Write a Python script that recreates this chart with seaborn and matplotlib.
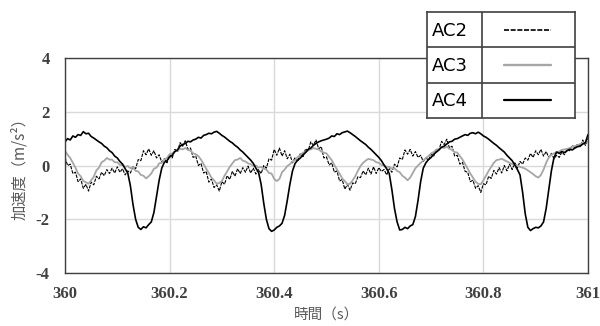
import numpy as np
import pandas as pd
import matplotlib
matplotlib.use("Agg")
import matplotlib.pyplot as plt
import seaborn as sns

# ---------------- data ----------------
t_start, t_end = 360.0, 361.0
n_samples = 201

ac2_c1 = [0.3,0.0,0.05,-0.3,-0.25,-0.6,-0.5,-0.85,-0.7,-0.95,-0.62,-0.72,-0.4,-0.5,-0.25,-0.38,-0.15,-0.3,-0.1,-0.28,-0.05,-0.25,-0.12,-0.35,-0.2,-0.28,-0.05,-0.12,0.22,0.18,0.55,0.4,0.62,0.38,0.55,0.28,0.4,0.12,0.25,0.1,0.4,0.28,0.6,0.5,0.85,0.72,0.92,0.6,0.65,0.3]
ac2_c2 = [0.35,0.0,0.08,-0.28,-0.22,-0.62,-0.5,-0.82,-0.72,-0.95,-0.6,-0.7,-0.38,-0.52,-0.22,-0.4,-0.12,-0.3,-0.08,-0.25,-0.02,-0.28,-0.1,-0.32,-0.15,-0.3,0.0,-0.1,0.25,0.2,0.6,0.38,0.65,0.35,0.55,0.25,0.42,0.1,0.3,0.15,0.45,0.3,0.62,0.55,0.88,0.75,0.95,0.62,0.7,0.28]
ac2_c3 = [0.32,0.02,0.1,-0.25,-0.2,-0.58,-0.52,-0.88,-0.7,-0.92,-0.65,-0.68,-0.42,-0.45,-0.2,-0.35,-0.1,-0.32,-0.05,-0.3,-0.08,-0.22,-0.15,-0.35,-0.12,-0.25,0.05,-0.05,0.28,0.22,0.58,0.42,0.6,0.35,0.52,0.3,0.38,0.15,0.28,0.2,0.42,0.35,0.6,0.58,0.9,0.78,0.98,0.65,0.72,0.35]
ac2_c4 = [0.38,0.05,0.12,-0.22,-0.25,-0.6,-0.55,-0.85,-0.75,-1.0,-0.68,-0.72,-0.4,-0.48,-0.18,-0.32,-0.08,-0.28,0.0,-0.2,0.05,-0.15,0.1,-0.1,0.15,0.05,0.28,0.2,0.45,0.3,0.55,0.4,0.6,0.35,0.52,0.3,0.45,0.25,0.38,0.3,0.5,0.4,0.6,0.55,0.75,0.65,0.8,0.7,0.95,0.75,1.0]

ac3_c1 = [0.55,0.4,0.28,0.1,-0.08,-0.3,-0.4,-0.58,-0.62,-0.68,-0.55,-0.42,-0.18,-0.08,0.12,0.18,0.28,0.22,0.22,0.12,0.12,0.02,0.02,-0.05,-0.02,-0.1,-0.08,-0.2,-0.22,-0.35,-0.38,-0.48,-0.4,-0.3,-0.12,-0.08,0.08,0.1,0.22,0.28,0.42,0.45,0.52,0.55,0.62,0.6,0.65,0.58,0.55,0.45]
ac3_c2 = [0.42,0.35,0.22,0.05,-0.12,-0.28,-0.45,-0.55,-0.68,-0.65,-0.58,-0.38,-0.22,-0.05,0.08,0.2,0.22,0.28,0.18,0.15,0.08,0.05,-0.02,0.0,-0.08,-0.05,-0.12,-0.15,-0.28,-0.3,-0.5,-0.58,-0.5,-0.25,-0.15,-0.02,0.05,0.15,0.2,0.32,0.38,0.48,0.5,0.58,0.6,0.65,0.62,0.6,0.52,0.48]
ac3_c3 = [0.45,0.32,0.2,0.02,-0.15,-0.3,-0.48,-0.58,-0.7,-0.68,-0.55,-0.4,-0.2,-0.02,0.1,0.18,0.25,0.22,0.2,0.12,0.1,0.02,0.0,-0.05,-0.05,-0.12,-0.1,-0.2,-0.25,-0.38,-0.45,-0.55,-0.45,-0.28,-0.1,0.0,0.1,0.18,0.28,0.35,0.45,0.5,0.58,0.62,0.68,0.65,0.7,0.62,0.58,0.5]
ac3_c4 = [0.48,0.35,0.22,0.05,-0.12,-0.3,-0.45,-0.6,-0.68,-0.7,-0.55,-0.38,-0.2,-0.05,0.1,0.2,0.22,0.25,0.2,0.15,0.1,0.05,0.02,0.0,-0.05,-0.08,-0.12,-0.18,-0.25,-0.32,-0.4,-0.45,-0.35,-0.15,0.1,0.3,0.4,0.45,0.5,0.52,0.58,0.6,0.62,0.65,0.7,0.72,0.75,0.8,0.82,0.85,0.9]

ac4_c1 = [0.88,1.0,0.95,1.1,1.05,1.15,1.12,1.26,1.18,1.2,1.08,1.02,0.95,0.88,0.82,0.72,0.66,0.55,0.48,0.35,0.28,0.15,0.05,-0.12,-0.28,-0.75,-1.45,-2.0,-2.3,-2.38,-2.28,-2.32,-2.2,-2.1,-1.75,-1.15,-0.55,-0.1,0.12,0.18,0.32,0.38,0.52,0.58,0.72,0.78,0.82,0.9,0.88,0.95]
ac4_c2 = [0.98,1.05,1.02,1.12,1.15,1.2,1.18,1.24,1.27,1.2,1.12,1.06,0.98,0.9,0.84,0.75,0.68,0.58,0.5,0.4,0.3,0.2,0.08,-0.1,-0.25,-0.7,-1.4,-2.0,-2.35,-2.45,-2.4,-2.3,-2.25,-2.15,-1.85,-1.3,-0.7,-0.2,0.08,0.2,0.28,0.4,0.48,0.6,0.65,0.75,0.82,0.88,0.92,0.95]
ac4_c3 = [0.98,1.02,1.1,1.08,1.18,1.15,1.22,1.25,1.28,1.22,1.15,1.08,1.0,0.92,0.85,0.78,0.68,0.6,0.5,0.4,0.3,0.18,0.02,-0.12,-0.3,-0.9,-1.6,-2.1,-2.4,-2.38,-2.3,-2.35,-2.25,-2.2,-1.9,-1.3,-0.6,-0.1,0.1,0.22,0.3,0.42,0.5,0.58,0.68,0.72,0.8,0.88,0.9,0.98]
ac4_c4 = [1.0,1.05,1.1,1.15,1.12,1.2,1.22,1.18,1.24,1.18,1.1,1.05,0.98,0.9,0.82,0.75,0.66,0.58,0.5,0.38,0.28,0.18,0.02,-0.15,-0.35,-1.0,-1.8,-2.3,-2.42,-2.35,-2.3,-2.32,-2.25,-2.1,-1.6,-0.9,-0.2,0.3,0.5,0.45,0.52,0.48,0.55,0.6,0.58,0.65,0.7,0.72,0.8,0.85,1.15]

series_names = ["AC2", "AC3", "AC4"]
x_ticks = [360, 360.2, 360.4, 360.6, 360.8, 361]
x_tick_labels = ["360", "360.2", "360.4", "360.6", "360.8", "361"]
y_ticks = [-4, -2, 0, 2, 4]
y_tick_labels = ["-4", "-2", "0", "2", "4"]
x_label = "時間（s）"
y_label = "加速度（m/s²）"

time = np.linspace(t_start, t_end, n_samples)
ac2 = ac2_c1 + ac2_c2 + ac2_c3 + ac2_c4
ac3 = ac3_c1 + ac3_c2 + ac3_c3 + ac3_c4
ac4 = ac4_c1 + ac4_c2 + ac4_c3 + ac4_c4

df = pd.DataFrame({"time": time, "AC2": ac2, "AC3": ac3, "AC4": ac4})

# ---------------- styling ----------------
sns.set_theme(style="white")
plt.rcParams["font.family"] = ["Noto Sans CJK JP", "DejaVu Sans"]

styles = {
    "AC2": dict(color="black", lw=0.8, dashes=(3, 1)),
    "AC3": dict(color="#a6a6a6", lw=1.3, dashes=None),
    "AC4": dict(color="black", lw=1.2, dashes=None),
}

fig = plt.figure(figsize=(6.0, 3.26), dpi=100)
ax = fig.add_axes([65/600, 1-273/326, (588-65)/600, (273-58)/326])

for name in series_names:
    st = styles[name]
    sns.lineplot(data=df, x="time", y=name, ax=ax, color=st["color"],
                 linewidth=st["lw"], legend=False)
    if st["dashes"] is not None:
        ax.lines[-1].set_dashes(st["dashes"])

ax.set_xlim(t_start, t_end)
ax.set_ylim(-4, 4)
ax.set_xticks(x_ticks)
ax.set_xticklabels(x_tick_labels)
ax.set_yticks(y_ticks)
ax.set_yticklabels(y_tick_labels)
ax.grid(True, color="#d9d9d9", lw=1)
ax.set_axisbelow(True)
for sp in ax.spines.values():
    sp.set_color("#404040")
    sp.set_linewidth(1.0)
ax.tick_params(axis="both", length=0, colors="#404040")
ax.tick_params(axis="x", pad=9)
ax.tick_params(axis="y", pad=11)
for lab in ax.get_xticklabels() + ax.get_yticklabels():
    lab.set_fontfamily(["Liberation Serif", "DejaVu Serif"])
    lab.set_fontweight("bold")
    lab.set_fontsize(12)
    lab.set_color("#404040")

ax.set_xlabel(x_label, fontsize=10.5, color="#595959",
              family=["Noto Sans CJK JP", "DejaVu Sans"])
ax.set_ylabel(y_label, fontsize=11, color="#595959",
              family=["Noto Sans CJK JP", "DejaVu Sans"])
ax.yaxis.set_label_coords(-0.07, 0.5)
ax.xaxis.set_label_coords(0.5, -0.16)

# ---------------- table-style legend ----------------
lax = fig.add_axes([427/600, 1-118/326, 148/600, 106/326])
lax.set_xlim(0, 1)
lax.set_ylim(0, 3)
lax.set_facecolor("white")
lax.set_xticks([])
lax.set_yticks([])
for sp in lax.spines.values():
    sp.set_color("#404040")
    sp.set_linewidth(1.2)
lax.axvline(0.372, color="#404040", lw=1.2)
for yy in (1, 2):
    lax.axhline(yy, color="#404040", lw=1.2)
for i, name in enumerate(series_names):
    yc = 2.5 - i
    st = styles[name]
    lax.text(0.03, yc - 0.03, name, va="center", ha="left", fontsize=13,
             family=["DejaVu Sans", "Liberation Sans"],
             color="black")
    ln, = lax.plot([0.52, 0.84], [yc, yc], color=st["color"],
                   lw=st["lw"] + 0.4)
    if st["dashes"] is not None:
        ln.set_dashes(st["dashes"])

fig.savefig("out.png", dpi=100)
